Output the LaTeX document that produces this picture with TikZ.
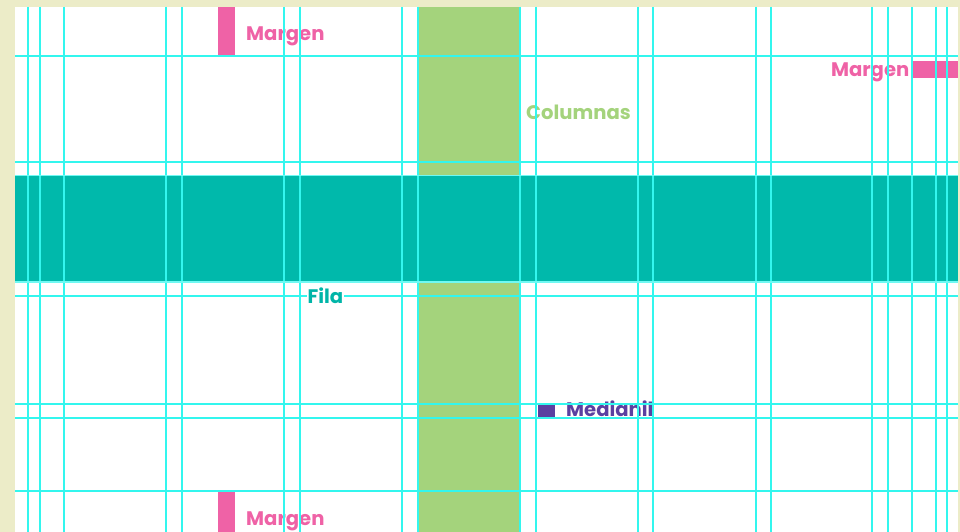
\documentclass[tikz,border=0pt]{standalone}
\usepackage{fontspec}
\setmainfont{Poppins}
\definecolor{bgyellow}{HTML}{ECECC8}
\definecolor{pinkm}{HTML}{EF62A6}
\definecolor{greenc}{HTML}{A4D37C}
\definecolor{tealf}{HTML}{00B9AB}
\definecolor{tealtxt}{HTML}{00B5A8}
\definecolor{purplem}{HTML}{5B40A0}
\definecolor{guide}{HTML}{33F6EE}
\tikzset{
  guideline/.style={draw=guide, line width=1.7pt},
  guidelight/.style={draw=guide!70, line width=1.4pt},
  lbl/.style={inner sep=0pt, font=\fontsize{19.6}{22}\selectfont\bfseries},
}
\begin{document}
\begin{tikzpicture}[x=1pt,y=-1pt]
\useasboundingbox (0,0) rectangle (960,532);
\fill[bgyellow] (0,0) rectangle (960,532);
\fill[white] (15,7) rectangle (957.7,532);
% column
\fill[greenc] (417.7,7) rectangle (520,532);
% row
\fill[tealf] (15,175) rectangle (957.7,282.3);
% margins
\fill[pinkm] (218.3,7) rectangle (235.3,56);
\fill[pinkm] (218.3,490.7) rectangle (235.3,532);
\fill[pinkm] (912.3,61.5) rectangle (957.7,77.7);
% gutter
\fill[purplem] (538.3,404.3) rectangle (555,417);
% labels
\node[lbl, text=pinkm, anchor=base west] (m1) at (246,40.7) {Margen};
\node[lbl, text=pinkm, anchor=base west] (m2) at (246,525) {Margen};
\node[lbl, text=pinkm, anchor=base east] (m3) at (909.5,76.7) {Margen};
\node[lbl, text=greenc, anchor=base west] (col) at (526,119) {Columnas};
\node[lbl, text=purplem, anchor=base west] (med) at (566,416.7) {Medianil};
% guides
\foreach \x in {28,40,64.3,166.3,182,284,299.7,401.7,417.7,520,536,637.7,653.3,755.7,771,872.3,888.3,912.3,936,946.7}
  \draw[guideline] (\x,7) -- (\x,532);
\foreach \y in {56,162.3,295.7,404.3,417.7,490.7}
  \draw[guideline] (15,\y) -- (957.7,\y);
\foreach \y in {175.6,282}
  \draw[guidelight] (15,\y) -- (957.7,\y);
\node[lbl, text=tealtxt, anchor=base west, fill=white, inner xsep=0.5pt, inner ysep=1pt] (fila) at (307,303.3) {Fila};
\end{tikzpicture}
\end{document}
